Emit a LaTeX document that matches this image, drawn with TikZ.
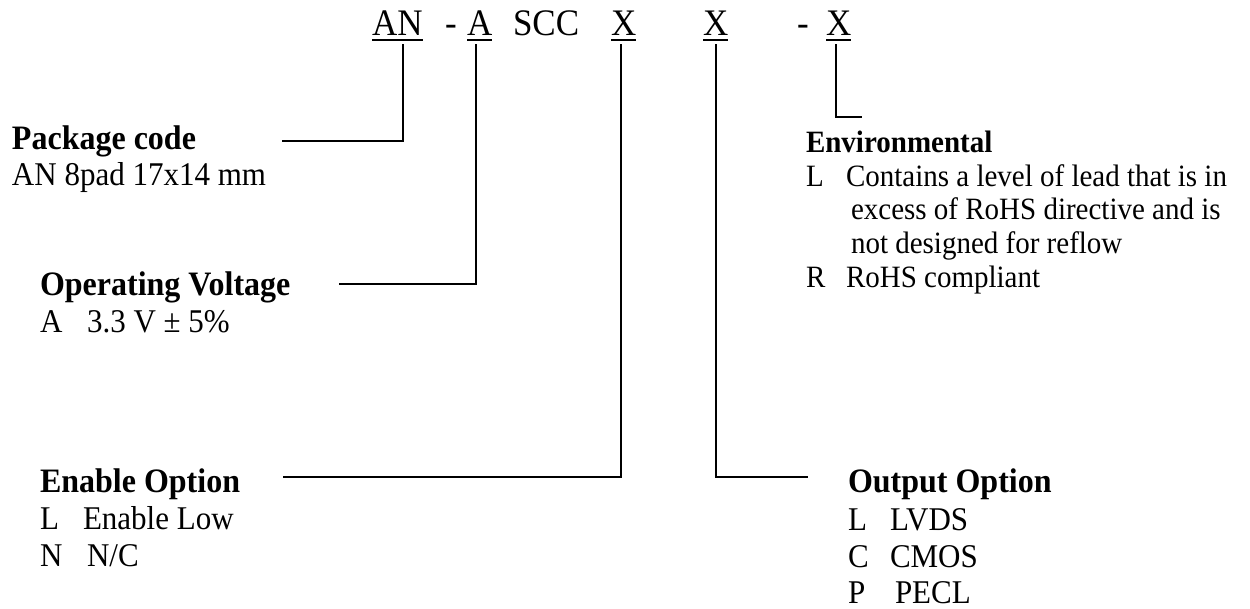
\documentclass[tikz,border=0pt]{standalone}
\usepackage{fontspec}
\usepackage{graphicx}
\setmainfont{Liberation Serif}
\newcommand{\vs}[1]{\scalebox{1}[1.07]{#1}}
\begin{document}
\begin{tikzpicture}[x=1pt,y=-1pt,
  txt/.style={anchor=base west,inner sep=0pt,outer sep=0pt},
  ttl/.style={txt,font=\fontsize{35}{40}\selectfont},
  hd/.style={txt,font=\fontsize{32}{37}\selectfont\bfseries},
  hds/.style={txt,font=\fontsize{29}{34}\selectfont\bfseries},
  body/.style={txt,font=\fontsize{31}{37}\selectfont},
  bodys/.style={txt,font=\fontsize{29}{34}\selectfont},
  ln/.style={line width=1.6pt,line cap=rect}]
\useasboundingbox (0,0) rectangle (1250,608);
% title line
\node[ttl] (an) at (372,35) {\vs{AN}};
\node[ttl] (d1) at (445,35) {\vs{-}};
\node[ttl] (a) at (467,35) {\vs{A}};
\node[ttl] (scc) at (513,35) {\vs{SCC}};
\node[ttl] (x1) at (611,35) {\vs{X}};
\node[ttl] (x2) at (703,35) {\vs{X}};
\node[ttl] (d2) at (797,35) {\vs{-}};
\node[ttl] (x3) at (826,35) {\vs{X}};
\foreach \n in {an,a,x1,x2,x3}
  \draw[line width=1.3pt] ([yshift=-5pt]\n.base west) -- ([yshift=-5pt]\n.base east);
% blocks
\node[hd] (pkg) at (12,149) {\vs{Package code}};
\node[body] (pkg1) at (12,185) {\vs{AN 8pad 17x14 mm}};

\node[hd] (vol) at (40,295) {\vs{Operating Voltage}};
\node[body] (vol1) at (40,332) {\vs{A}};
\node[body] (vol1b) at (87,332) {\vs{3.3 V ± 5\%}};

\node[hds] (env) at (806,152) {\vs{Environmental}};
\node[bodys] (envL) at (806,186) {\vs{L}};
\node[bodys] (envL1) at (846,186) {\vs{Contains a level of lead that is in}};
\node[bodys] (envL2) at (851,219) {\vs{excess of RoHS directive and is}};
\node[bodys] (envL3) at (851,253) {\vs{not designed for reflow}};
\node[bodys] (envR) at (806,287) {\vs{R}};
\node[bodys] (envR1) at (846,287) {\vs{RoHS compliant}};

\node[hd] (en) at (40,492) {\vs{Enable Option}};
\node[body] (enL) at (40,529) {\vs{L}};
\node[body] (enL1) at (83,529) {\vs{Enable Low}};
\node[body] (enN) at (40,566) {\vs{N}};
\node[body] (enN1) at (87,566) {\vs{N/C}};

\node[hd] (out) at (848,492) {\vs{Output Option}};
\node[body] (outL) at (848,530) {\vs{L}};
\node[body] (outL1) at (890,530) {\vs{LVDS}};
\node[body] (outC) at (848,567) {\vs{C}};
\node[body] (outC1) at (890,567) {\vs{CMOS}};
\node[body] (outP) at (848,603) {\vs{P}};
\node[body] (outP1) at (895,603) {\vs{PECL}};
% connector ends
\coordinate (cpkg) at (283,141);
\coordinate (cvol) at (340,284);
\coordinate (cen) at (284,477);
\coordinate (cout) at (807,477);
\coordinate (cenv) at (861,117);
% connectors
\draw[ln] (an.base -| 403,0) ++(0,10) |- (cpkg);
\draw[ln] (a.base -| 476,0) ++(0,10) |- (cvol);
\draw[ln] (x1.base -| 621,0) ++(0,10) |- (cen);
\draw[ln] (x2.base -| 716,0) ++(0,10) |- (cout);
\draw[ln] (x3.base -| 836,0) ++(0,10) |- (cenv);
\end{tikzpicture}
\end{document}
